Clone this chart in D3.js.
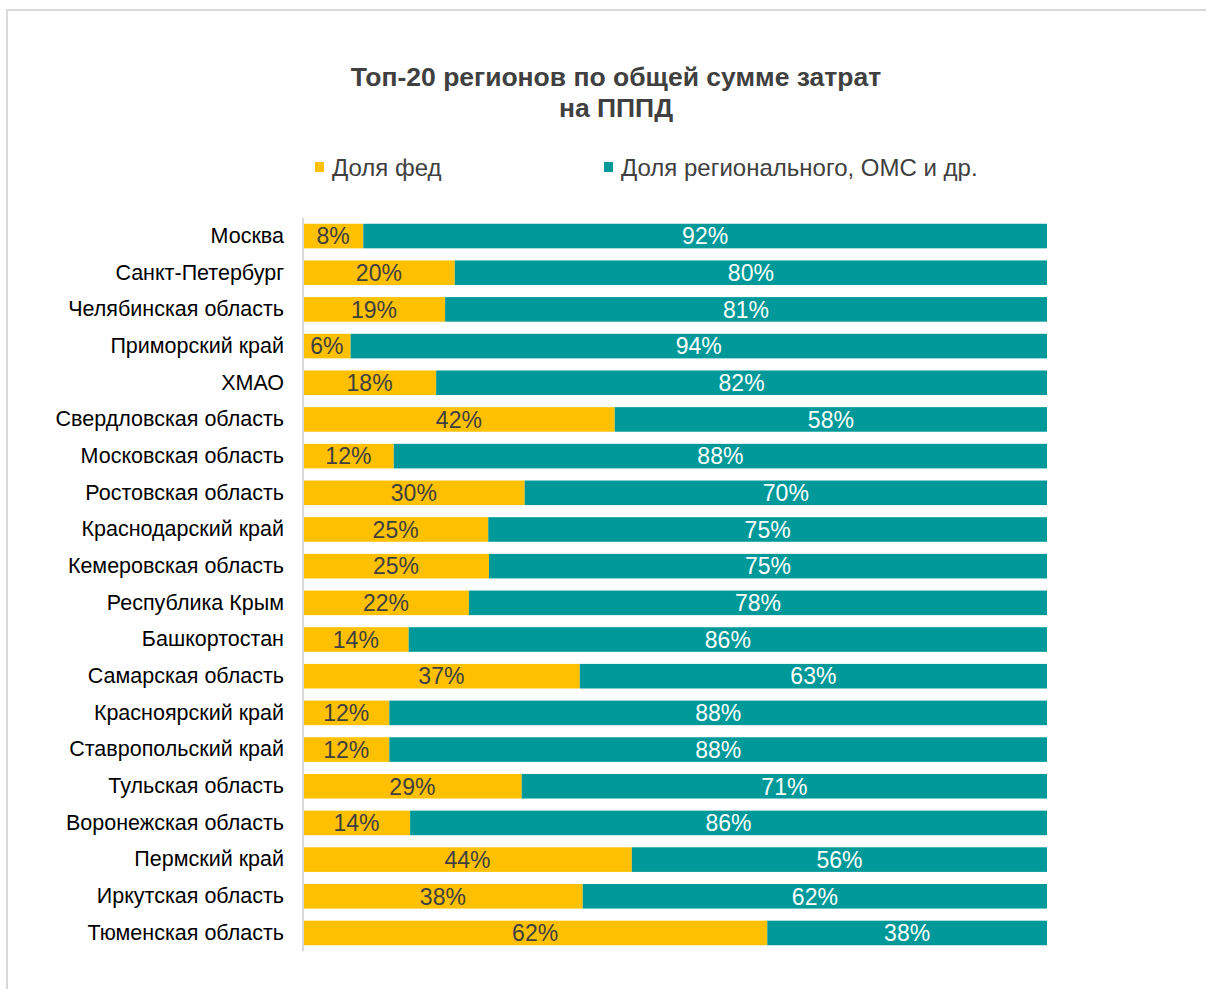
<!DOCTYPE html>
<html>
<head>
<meta charset="utf-8">
<script src="https://cdn.jsdelivr.net/npm/d3@7"></script>
<style>
  body { margin: 0; background: #fff; }
  svg { font-family: "Liberation Sans", Arial, sans-serif; }
</style>
</head>
<body>
<svg id="chart"></svg>
<script>
// данные
const regions = ['Москва', 'Санкт-Петербург', 'Челябинская область', 'Приморский край', 'ХМАО',
  'Свердловская область', 'Московская область', 'Ростовская область', 'Краснодарский край',
  'Кемеровская область', 'Республика Крым', 'Башкортостан', 'Самарская область',
  'Красноярский край', 'Ставропольский край', 'Тульская область', 'Воронежская область',
  'Пермский край', 'Иркутская область', 'Тюменская область'];
const fedShare = [8.1, 20.4, 19.1, 6.4, 17.9, 41.9, 12.2, 29.8, 24.9, 25.0, 22.3, 14.2, 37.2,
  11.6, 11.6, 29.4, 14.4, 44.2, 37.6, 62.4];
const seriesNames = ['Доля фед', 'Доля регионального, ОМС и др.'];
const colors = ['#FFC000', '#009999'];

const width = 1206, height = 989;
const svg = d3.select('#chart').attr('width', width).attr('height', height);

// рамка
svg.append('rect')
  .attr('x', 7).attr('y', 10)
  .attr('width', 1220).attr('height', 1000)
  .attr('fill', 'none').attr('stroke', '#d9d9d9').attr('stroke-width', 2);

// заголовок
svg.append('text').attr('x', 616).attr('y', 86)
  .attr('text-anchor', 'middle').attr('font-size', 26.5).attr('font-weight', 'bold').attr('fill', '#404040')
  .text('Топ-20 регионов по общей сумме затрат');
svg.append('text').attr('x', 616).attr('y', 117)
  .attr('text-anchor', 'middle').attr('font-size', 26.5).attr('font-weight', 'bold').attr('fill', '#404040')
  .text('на ПППД');

// легенда
const legendX = [315, 604];
seriesNames.forEach((n, i) => {
  svg.append('rect').attr('x', legendX[i]).attr('y', 162).attr('width', 9).attr('height', 10).attr('fill', colors[i]);
  svg.append('text').attr('x', legendX[i] + 17).attr('y', 176)
    .attr('font-size', 24).attr('fill', '#404040').text(n);
});

const rows = regions.map((r, i) => ({ region: r, fed: fedShare[i], reg: 100 - fedShare[i] }));

const x = d3.scaleLinear().domain([0, 100]).range([303, 1047]);
const y = d3.scaleBand().domain(regions).range([217.7, 951.3]).paddingInner(0.33).paddingOuter(0.165);

const stack = d3.stack().keys(['fed', 'reg'])(rows);

const g = svg.append('g');
stack.forEach((s, si) => {
  g.selectAll('.bar' + si)
    .data(s)
    .enter()
    .append('rect')
    .attr('x', d => x(d[0]))
    .attr('y', d => y(d.data.region))
    .attr('width', d => x(d[1]) - x(d[0]))
    .attr('height', y.bandwidth())
    .attr('fill', colors[si]);

  g.selectAll('.lbl' + si)
    .data(s)
    .enter()
    .append('text')
    .attr('x', d => (x(d[0]) + x(d[1])) / 2)
    .attr('y', d => y(d.data.region) + y.bandwidth() / 2)
    .attr('dy', '0.36em')
    .attr('text-anchor', 'middle')
    .attr('font-size', 23)
    .attr('fill', si === 0 ? '#404040' : '#ffffff')
    .text(d => Math.round(d[1] - d[0]) + '%');
});

// ось категорий
const yAxis = svg.append('g').attr('transform', 'translate(303,0)')
  .call(d3.axisLeft(y).tickSize(0).tickPadding(19));
yAxis.select('.domain').attr('stroke', '#d9d9d9').attr('stroke-width', 2)
  .attr('d', 'M0,217.7V951.3');
yAxis.selectAll('text').attr('font-size', 21.5).attr('fill', '#000')
  .attr('font-family', '"Liberation Sans", Arial, sans-serif');
</script>
</body>
</html>
